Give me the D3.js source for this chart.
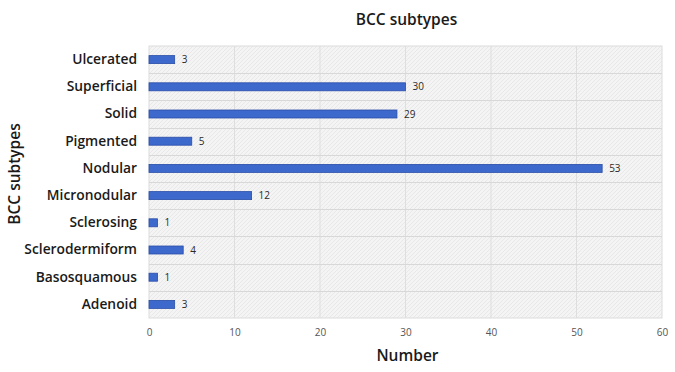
<!DOCTYPE html>
<html>
<head>
<meta charset="utf-8">
<script src="https://cdn.jsdelivr.net/npm/d3@7/dist/d3.min.js"></script>
<style>
  html, body { margin: 0; padding: 0; background: #fff; }
  svg { display: block; font-family: "Open Sans", Lato, sans-serif; }
</style>
</head>
<body>
<svg id="chart" width="675" height="372"></svg>
<script>
// BCC subtype counts, top to bottom
const subtypes = ["Ulcerated", "Superficial", "Solid", "Pigmented", "Nodular",
  "Micronodular", "Sclerosing", "Sclerodermiform", "Basosquamous", "Adenoid"];
const counts = [3, 30, 29, 5, 53, 12, 1, 4, 1, 3];
const xTicks = [0, 10, 20, 30, 40, 50, 60];

const svg = d3.select("#chart");
const margin = { top: 46, right: 13, bottom: 54, left: 149 };
const W = 675, H = 372;
const innerW = W - margin.left - margin.right;
const innerH = H - margin.top - margin.bottom;
const labelFont = "'Open Sans', Lato, sans-serif";

// light hatched background for the plot area
const defs = svg.append("defs");
const pat = defs.append("pattern")
  .attr("id", "hatch").attr("patternUnits", "userSpaceOnUse")
  .attr("width", 4).attr("height", 4);
pat.append("rect").attr("width", 4).attr("height", 4).attr("fill", "#f4f4f4");
pat.append("path").attr("d", "M0,4 L4,0 M-1,1 L1,-1 M3,5 L5,3")
  .attr("stroke", "#e4e4e4").attr("stroke-width", 0.8);

const g = svg.append("g").attr("transform", `translate(${margin.left},${margin.top})`);

const x = d3.scaleLinear().domain([0, 60]).range([0, innerW]);
const y = d3.scaleBand().domain(subtypes).range([0, innerH]).paddingInner(0).paddingOuter(0);

g.append("rect").attr("width", innerW).attr("height", innerH)
  .attr("fill", "url(#hatch)").attr("stroke", "#dcdcdc");

// vertical gridlines
g.selectAll(".vgrid").data(xTicks.slice(1, -1)).join("line")
  .attr("x1", d => x(d)).attr("x2", d => x(d))
  .attr("y1", 0).attr("y2", innerH)
  .attr("stroke", "#dedede").attr("stroke-width", 1);

// horizontal separators between categories
g.selectAll(".hgrid").data(subtypes.slice(1)).join("line")
  .attr("x1", 0).attr("x2", innerW)
  .attr("y1", d => Math.round(y(d)) + 0.5).attr("y2", d => Math.round(y(d)) + 0.5)
  .attr("stroke", "#d8d8d8").attr("stroke-width", 1);

const barH = 8;
g.selectAll(".bar").data(subtypes).join("rect")
  .attr("x", x(0))
  .attr("y", d => y(d) + y.bandwidth() / 2 - barH / 2)
  .attr("width", (d, i) => x(counts[i]) - x(0))
  .attr("height", barH)
  .attr("fill", "#3d68cc").attr("stroke", "#2a4ea8").attr("stroke-width", 0.8);

g.selectAll(".val").data(subtypes).join("text")
  .attr("x", (d, i) => x(counts[i]) + 7)
  .attr("y", d => y(d) + y.bandwidth() / 2)
  .attr("dy", "0.35em")
  .attr("font-size", 10).attr("fill", "#2a2a2a")
  .attr("font-family", labelFont)
  .text((d, i) => counts[i]);

// category axis
const yAxis = g.append("g").call(d3.axisLeft(y).tickSize(0).tickPadding(12));
yAxis.select(".domain").remove();
yAxis.selectAll("text").attr("font-size", 13.8).attr("font-weight", 600)
  .attr("fill", "#1a1a1a").attr("font-family", labelFont);

// value axis
const xAxis = g.append("g").attr("transform", `translate(0,${innerH})`)
  .call(d3.axisBottom(x).tickValues(xTicks).tickSize(0).tickPadding(11));
xAxis.select(".domain").remove();
xAxis.selectAll("text").attr("font-size", 10).attr("fill", "#555")
  .attr("font-family", labelFont);

// titles
svg.append("text").attr("x", margin.left + innerW / 2 + 1).attr("y", 25)
  .attr("text-anchor", "middle").attr("font-size", 15.5).attr("font-weight", 600)
  .attr("fill", "#1a1a1a").text("BCC subtypes");

svg.append("text").attr("x", margin.left + innerW / 2 + 2).attr("y", 361)
  .attr("text-anchor", "middle").attr("font-size", 15.5).attr("font-weight", 600)
  .attr("fill", "#1a1a1a").text("Number");

svg.append("text")
  .attr("transform", `translate(20,${margin.top + innerH / 2 - 8}) rotate(-90)`)
  .attr("text-anchor", "middle").attr("font-size", 15.5).attr("font-weight", 600)
  .attr("fill", "#1a1a1a").text("BCC subtypes");
</script>
</body>
</html>
